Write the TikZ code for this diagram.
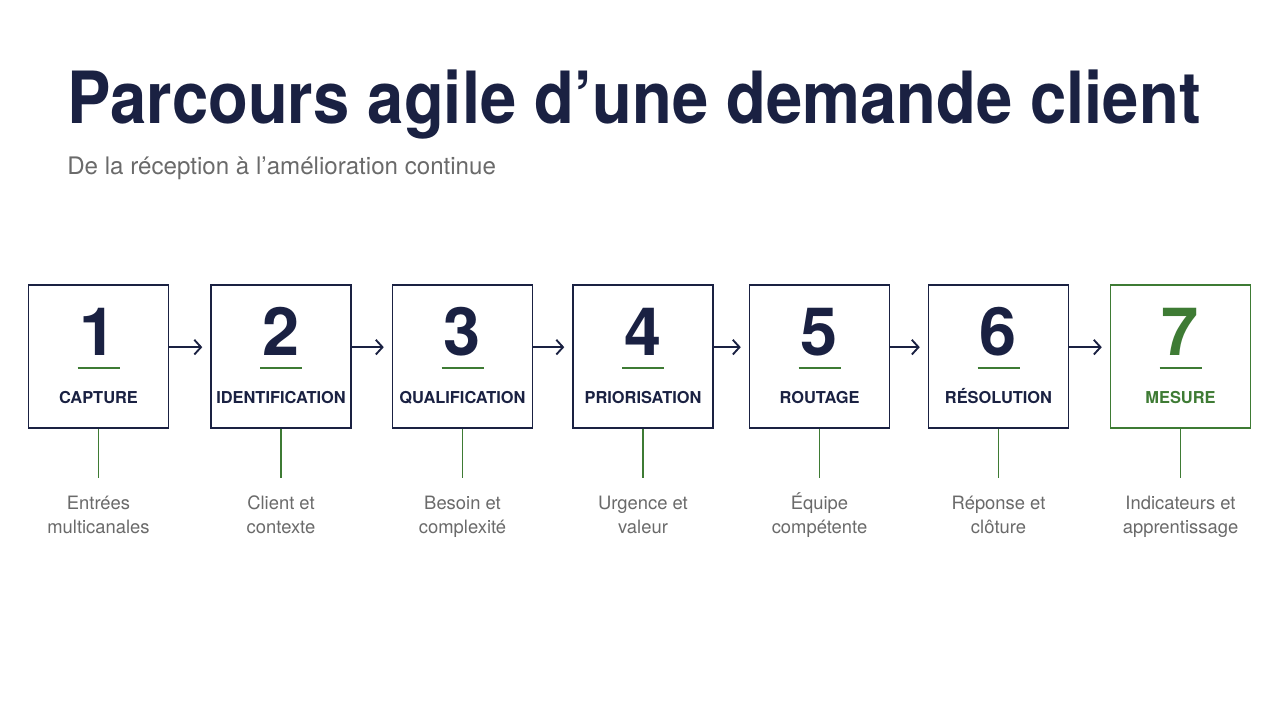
\documentclass[tikz,border=0pt]{standalone}
\usepackage{fontspec}
\setmainfont{TeX Gyre Heros}
\usetikzlibrary{arrows.meta}

\definecolor{navy}{HTML}{1A2142}
\definecolor{leaf}{HTML}{3E7B34}
\definecolor{textgray}{HTML}{6A6A6A}

\tikzset{
	stepbox/.style={draw=navy, line width=1.1pt, minimum width=105pt, minimum height=107pt, inner sep=0pt},
	stepnum/.style={anchor=base, text=navy, font=\fontsize{50}{50}\selectfont\bfseries, inner sep=0pt},
	steplabel/.style={anchor=base, text=navy, font=\fontsize{12.3}{12.3}\selectfont\bfseries, inner sep=0pt},
	stepdesc/.style={anchor=north, text=textgray, align=center, inner xsep=0pt, inner ysep=10.7pt, font=\fontsize{13.8}{18}\selectfont},
	stick/.style={draw=leaf, line width=1pt},
	underbar/.style={draw=leaf, line width=1.6pt},
	flow/.style={draw=navy, line width=1.4pt, -{Straight Barb[length=5pt,width=11pt]}, shorten >=6pt}
}

\begin{document}
\begin{tikzpicture}[x=0.75pt,y=-0.75pt]
		
		\fill[white] (0,0) rectangle (1280,702);
		\useasboundingbox (0,0) rectangle (1280,702);
		
		% title
		\node[anchor=base west, inner sep=0pt, text=navy] (title) at (67,124)
		{\scalebox{0.905}[1]{\fontsize{54}{54}\selectfont\bfseries Parcours agile d’une demande client}};
		\node[anchor=base west, inner sep=0pt, text=textgray, font=\fontsize{18.1}{18.1}\selectfont] (subtitle) at (67,175)
		{De la réception à l’amélioration continue};
		
		% boxes
		\node[stepbox] (s1) at (98.5,356.5) {};
		\node[stepbox] (s2) at (281,356.5) {};
		\node[stepbox] (s3) at (462.5,356.5) {};
		\node[stepbox] (s4) at (643,356.5) {};
		\node[stepbox] (s5) at (819.5,356.5) {};
		\node[stepbox] (s6) at (998.5,356.5) {};
		\node[stepbox, draw=leaf] (s7) at (1180.5,356.5) {};
		
		% numbers
		\node[stepnum] (n1) at (98.5,355) {1};
		\node[stepnum] (n2) at (281,355) {2};
		\node[stepnum] (n3) at (462.5,355) {3};
		\node[stepnum] (n4) at (643,355) {4};
		\node[stepnum] (n5) at (819.5,355) {5};
		\node[stepnum] (n6) at (998.5,355) {6};
		\node[stepnum, text=leaf] (n7) at (1180.5,355) {7};
		
		\draw[underbar] (77.5,368) -- (119.5,368);
		\draw[underbar] (260,368) -- (302,368);
		\draw[underbar] (441.5,368) -- (483.5,368);
		\draw[underbar] (622,368) -- (664,368);
		\draw[underbar] (798.5,368) -- (840.5,368);
		\draw[underbar] (977.5,368) -- (1019.5,368);
		\draw[underbar] (1159.5,368) -- (1201.5,368);
		
		% labels
		\node[steplabel] (l1) at (98.5,403) {CAPTURE};
		\node[steplabel] (l2) at (281,403) {IDENTIFICATION};
		\node[steplabel] (l3) at (462.5,403) {QUALIFICATION};
		\node[steplabel] (l4) at (643,403) {PRIORISATION};
		\node[steplabel] (l5) at (819.5,403) {ROUTAGE};
		\node[steplabel] (l6) at (998.5,403) {RÉSOLUTION};
		\node[steplabel, text=leaf] (l7) at (1180.5,403) {MESURE};
		
		% arrows
		\draw[flow] ([yshift=7pt]s1.east) -- ([yshift=7pt]s2.west);
		\draw[flow] ([yshift=7pt]s2.east) -- ([yshift=7pt]s3.west);
		\draw[flow] ([yshift=7pt]s3.east) -- ([yshift=7pt]s4.west);
		\draw[flow] ([yshift=7pt]s4.east) -- ([yshift=7pt]s5.west);
		\draw[flow] ([yshift=7pt]s5.east) -- ([yshift=7pt]s6.west);
		\draw[flow] ([yshift=7pt]s6.east) -- ([yshift=7pt]s7.west);
		
		% descriptions
		\node[stepdesc] (d1) at (98.5,478) {\vphantom{É}Entrées\\multicanales};
		\node[stepdesc] (d2) at (281,478) {\vphantom{É}Client et\\contexte};
		\node[stepdesc] (d3) at (462.5,478) {\vphantom{É}Besoin et\\complexité};
		\node[stepdesc] (d4) at (643,478) {\vphantom{É}Urgence et\\valeur};
		\node[stepdesc] (d5) at (819.5,478) {Équipe\\compétente};
		\node[stepdesc] (d6) at (998.5,478) {\vphantom{É}Réponse et\\clôture};
		\node[stepdesc] (d7) at (1180.5,478) {\vphantom{É}Indicateurs et\\apprentissage};
		
		\draw[stick] (s1.south) -- (d1.north);
		\draw[stick] (s2.south) -- (d2.north);
		\draw[stick] (s3.south) -- (d3.north);
		\draw[stick] (s4.south) -- (d4.north);
		\draw[stick] (s5.south) -- (d5.north);
		\draw[stick] (s6.south) -- (d6.north);
		\draw[stick] (s7.south) -- (d7.north);
		
\end{tikzpicture}
\end{document}
